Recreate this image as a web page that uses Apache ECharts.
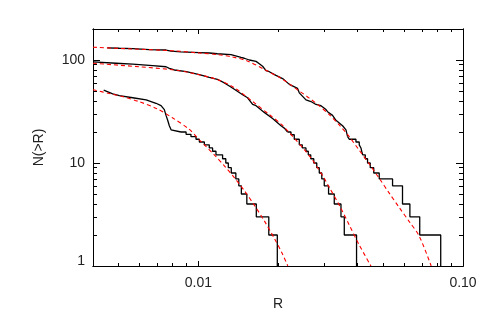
<!DOCTYPE html>
<html>
<head>
<meta charset="utf-8">
<script src="https://cdn.jsdelivr.net/npm/echarts@6/dist/echarts.min.js"></script>
<style>
html,body{margin:0;padding:0;background:#ffffff;}
#chart{width:491px;height:326px;}
</style>
</head>
<body>
<div id="chart"></div>
<script>
// ---- Tick values and labels ----
const xMajorTicks = [0.01, 0.1];
const xMinorTicks = [0.004, 0.005, 0.006, 0.007, 0.008, 0.009, 0.02, 0.03, 0.04, 0.05, 0.06, 0.07, 0.08, 0.09];
const xTickLabels = ['0.01', '0.10'];
const yMajorTicks = [1, 10, 100];
const yMinorTicks = [2, 3, 4, 5, 6, 7, 8, 9, 20, 30, 40, 50, 60, 70, 80, 90, 200];
const yTickLabels = ['1', '10', '100'];

// ---- Cumulative counts N(>R), step curves (black) ----
const topStepR = [0.00453, 0.00503, 0.00565, 0.00653, 0.00755, 0.00789, 0.0086, 0.01009, 0.011, 0.0118,
  0.01329, 0.0145, 0.01492, 0.01558, 0.01652, 0.017, 0.01749, 0.01802, 0.01854, 0.01965,
  0.02082, 0.02113, 0.02207, 0.02371, 0.02407, 0.02551, 0.02664, 0.02783, 0.02907, 0.03036,
  0.03078, 0.03215, 0.03311, 0.03408, 0.03508, 0.03613, 0.03664, 0.03717, 0.0394, 0.04055,
  0.04115, 0.04144, 0.0418, 0.04273, 0.04359, 0.04462, 0.046, 0.04825, 0.05418, 0.05908,
  0.0630, 0.06863, 0.08238];
const topStepN = [131, 130, 129, 126, 125, 122, 120, 118, 117, 115,
  113, 106, 104, 100, 97, 92, 87, 79, 77, 71,
  66, 64, 58, 53, 48, 41, 39.5, 37, 36, 33,
  31.5, 29, 26, 24.5, 23, 21, 18, 17, 16, 15,
  14, 13, 12, 11, 10, 9, 8, 7, 6, 4,
  3, 2, 1];

const midStepR = [0.004, 0.00489, 0.00565, 0.00672, 0.00755, 0.00777, 0.00812, 0.00901, 0.01009, 0.011,
  0.0118, 0.01254, 0.01309, 0.01368, 0.0147, 0.01535, 0.01604, 0.01652, 0.01775, 0.01908,
  0.02053, 0.02113, 0.02174, 0.02239, 0.02304, 0.02407, 0.0247, 0.02551, 0.02603, 0.02659,
  0.0273, 0.02802, 0.02864, 0.02927, 0.02991, 0.03105, 0.03263, 0.03459, 0.0356, 0.03961];
const midStepN = [96, 93, 91, 88, 86, 83, 80, 77, 72, 68,
  65, 60, 56, 52, 46, 43, 37, 36, 31, 27,
  23, 21.8, 20, 18.8, 17, 15, 14, 13, 12, 11,
  10, 9, 8, 7, 6, 5, 4, 3, 2, 1];

const lowStepR = [0.00439, 0.00475, 0.00503, 0.00565, 0.00635, 0.00692, 0.00723, 0.00744, 0.00755, 0.00766,
  0.00777, 0.00789, 0.0086, 0.00899, 0.00938, 0.0098, 0.01009, 0.01054, 0.011, 0.01132,
  0.01166, 0.01235, 0.0127, 0.01298, 0.01332, 0.01386, 0.01422, 0.01454, 0.01525, 0.01656,
  0.01846, 0.01988];
const lowStepN = [51, 47, 45, 43, 41, 38, 36, 33, 29, 26,
  23, 21, 20, 19, 18, 17, 16, 15, 14, 13,
  12, 11, 10, 9, 8, 7, 6, 5, 4, 3,
  2, 1];

// ---- Model fits (red dashed) ----
const topFitR = [0.004, 0.00563, 0.00798, 0.01009, 0.0118, 0.01344, 0.01531, 0.01775, 0.02062, 0.02207,
  0.02407, 0.02625, 0.02864, 0.03124, 0.03408, 0.03717, 0.04055, 0.04424, 0.04825, 0.05264,
  0.05741, 0.06263, 0.06833, 0.07582];
const topFitN = [133, 128, 123, 117, 113, 107, 98, 81, 66, 58.6,
  50, 42.7, 35.9, 29.5, 23.4, 18, 13.3, 9.8, 7.1, 5.1,
  3.7, 2.7, 1.95, 1];

const midFitR = [0.004, 0.00598, 0.00798, 0.00925, 0.0118, 0.01368, 0.01599, 0.01854, 0.02062, 0.02304,
  0.02514, 0.02671, 0.02814, 0.02991, 0.03124, 0.03408, 0.03717, 0.04055, 0.04489];
const midFitN = [93, 86, 80.4, 75.5, 64.6, 53.7, 39.8, 29.5, 23.7, 17.4,
  13.5, 11.1, 9.1, 7.1, 5.8, 3.9, 2.5, 1.6, 1];

const lowFitR = [0.004, 0.00461, 0.00516, 0.00598, 0.00694, 0.00798, 0.00925, 0.01009, 0.01054, 0.01149,
  0.01254, 0.01368, 0.01492, 0.01627, 0.01775, 0.01936, 0.02076, 0.02178];
const lowFitN = [51.5, 47.3, 44.2, 39.4, 33.9, 27.5, 21.2, 16.8, 15, 12,
  9.4, 7.2, 5.4, 3.9, 2.75, 1.86, 1.32, 1];

// ---- Build chart ----
const pair = (xs, ys) => xs.map((x, i) => [x, ys[i]]);
const textColor = '#222';
const fontFamily = '"Liberation Sans", Arial, Helvetica, sans-serif';
// above this count the unit steps are sub-pixel, so the staircase is traced as a line
const denseAbove = 20;

function xAxisDef(position, ticks, tickLen, withLabels) {
  return {
    type: 'log', logBase: 10, min: 0.004, max: 0.1, position: position,
    axisLine: { show: true, onZero: false, lineStyle: { color: '#000', width: 1 } },
    axisTick: { show: true, inside: true, length: tickLen, customValues: ticks, lineStyle: { color: '#000', width: 1 } },
    axisLabel: withLabels ? {
      show: true, customValues: xMajorTicks, margin: 10, color: textColor, fontSize: 14, fontFamily: fontFamily,
      formatter: v => xTickLabels[Math.round(Math.log10(v)) + 2]
    } : { show: false },
    splitLine: { show: false },
    name: withLabels ? 'R' : '',
    nameLocation: 'middle', nameGap: 31,
    nameTextStyle: { color: textColor, fontSize: 14, fontFamily: fontFamily }
  };
}
function yAxisDef(position, ticks, tickLen, withLabels) {
  return {
    type: 'log', logBase: 10, min: 1, max: 200, position: position,
    axisLine: { show: true, onZero: false, lineStyle: { color: '#000', width: 1 } },
    axisTick: { show: true, inside: true, length: tickLen, customValues: ticks, lineStyle: { color: '#000', width: 1 } },
    axisLabel: withLabels ? {
      show: true, customValues: yMajorTicks, margin: 8, color: textColor, fontSize: 14, fontFamily: fontFamily,
      formatter: v => {
        const k = Math.round(Math.log10(v));
        return k === 0 ? '{lo|' + yTickLabels[k] + '}' : yTickLabels[k];
      },
      rich: { lo: { padding: [0, 0, 9, 0], color: textColor, fontSize: 14, fontFamily: fontFamily } }
    } : { show: false },
    splitLine: { show: false },
    name: withLabels ? 'N(>R)' : '',
    nameLocation: 'middle', nameGap: 47, nameRotate: 90,
    nameTextStyle: { color: textColor, fontSize: 14, fontFamily: fontFamily }
  };
}

const stepStyle = { color: '#000', width: 1.3 };
const fitStyle = { color: '#ff0000', width: 1.1, type: [4, 3] };

function stepSeries(xs, ys) {
  const all = pair(xs, ys);
  let cut = ys.findIndex(n => n <= denseAbove);
  if (cut < 0) cut = ys.length - 1;
  const base = { type: 'line', xAxisIndex: 0, yAxisIndex: 0, showSymbol: false, symbol: 'none',
    lineStyle: stepStyle, z: 2, silent: true, animation: false };
  return [
    Object.assign({}, base, { data: all.slice(0, cut + 1) }),
    Object.assign({}, base, { data: all.slice(cut), step: 'end' })
  ];
}
function fitSeries(xs, ys) {
  return { type: 'line', xAxisIndex: 0, yAxisIndex: 0, data: pair(xs, ys), smooth: 0.3,
    showSymbol: false, symbol: 'none', lineStyle: fitStyle, z: 3, silent: true, animation: false };
}

const chart = echarts.init(document.getElementById('chart'), null, { renderer: 'canvas' });
chart.setOption({
  animation: false,
  backgroundColor: '#ffffff',
  grid: { left: 93, right: 28, top: 29, bottom: 60, containLabel: false },
  xAxis: [
    xAxisDef('bottom', xMajorTicks, 5, true),
    xAxisDef('bottom', xMinorTicks, 3, false),
    xAxisDef('top', xMajorTicks, 5, false),
    xAxisDef('top', xMinorTicks, 3, false)
  ],
  yAxis: [
    yAxisDef('left', yMajorTicks, 7, true),
    yAxisDef('left', yMinorTicks, 4, false),
    yAxisDef('right', yMajorTicks, 7, false),
    yAxisDef('right', yMinorTicks, 4, false)
  ],
  series: [].concat(
    stepSeries(topStepR, topStepN),
    stepSeries(midStepR, midStepN),
    stepSeries(lowStepR, lowStepN),
    [fitSeries(topFitR, topFitN), fitSeries(midFitR, midFitN), fitSeries(lowFitR, lowFitN)]
  )
});
</script>
</body>
</html>
